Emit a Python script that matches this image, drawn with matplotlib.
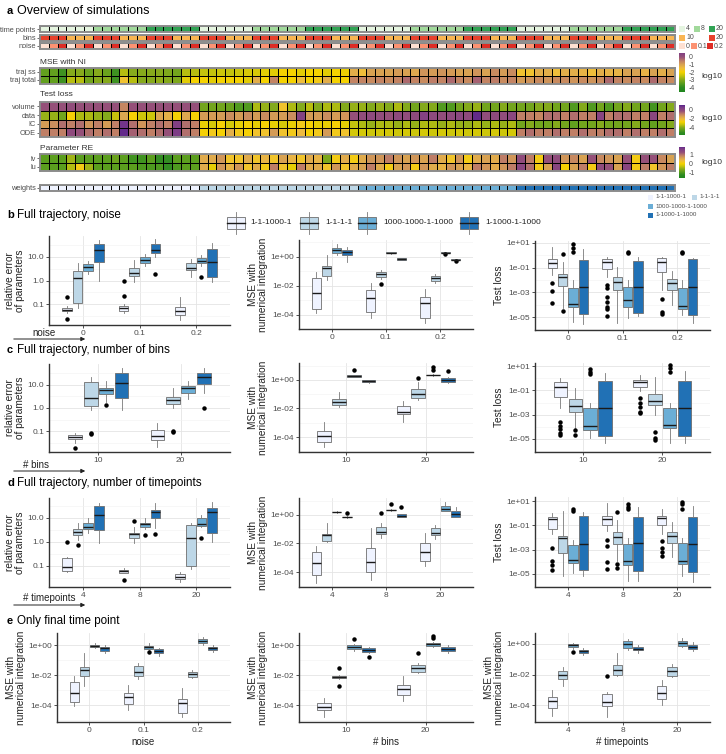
import numpy as np
import matplotlib.pyplot as plt
from matplotlib.colors import LinearSegmentedColormap, ListedColormap, Normalize
from matplotlib.patches import Rectangle
from matplotlib.ticker import FixedLocator, NullFormatter

plt.rcParams['font.family'] = ['Liberation Sans', 'DejaVu Sans']

W, H = 726, 754

# ---------------- categories ----------------
weights = ['1-1-1000-1', '1-1-1-1', '1000-1000-1-1000', '1-1000-1-1000']
weight_colors = ['#eff3ff', '#bdd7e7', '#6baed6', '#2171b5']
timepoints = ['4', '8', '20']
tp_colors = ['#e5f5e0', '#a1d99b', '#31a354']
bins = ['10', '20']
bin_colors = ['#f9b552', '#e8412c']
bins_col_order = [1, 0]          # columns show 20 first, then 10
noise = ['0', '0.1', '0.2']
noise_colors = ['#fee0d2', '#fc9272', '#de2d26']

# ---------------- heatmap values (log10, read per column) ----------------
mse_traj_ss = [-3.4, -3.4, -3.8, -3.0, -3.0, -3.3, -3.0, -3.3, -3.8, -2.6, -3.0, -3.0, -3.0, -3.0, -3.1, -3.2, -2.6, -2.6,
               -2.5, -2.5, -2.4, -2.5, -2.4, -2.3, -2.3, -2.2, -2.2, -2.0, -2.0, -2.2, -2.0, -2.0, -2.2, -2.0, -2.1, -1.2,
               -1.5, -1.0, -1.0, -1.0, -0.9, -1.0, -1.1, -0.8, -0.9, -0.8, -0.9, -1.0, -1.0, -0.8, -1.0, -0.7, -0.9, -0.7,
               -1.6, -1.6, -1.2, -1.2, -1.5, -1.2, -1.2, -1.3, -1.5, -1.2, -1.3, -1.3, -1.0, -1.0, -1.3, -1.0, -1.2, -1.0]
mse_traj_total = [-3.4, -3.4, -3.8, -2.6, -2.6, -3.2, -3.0, -3.0, -3.8, -1.6, -2.6, -3.0, -3.0, -2.9, -3.0, -3.1, -2.2, -2.0,
                  -2.0, -2.2, -2.0, -2.0, -2.0, -2.2, -1.2, -2.0, -0.6, -2.0, -2.0, -1.5, -2.0, -1.8, -1.2, -2.0, -2.0, -0.6,
                  -0.6, -0.7, -0.6, -0.7, -0.6, -0.3, -0.6, -0.7, -0.5, -0.6, -0.3, -0.6, -0.7, -0.2, -0.6, -0.5, -0.7, -0.6,
                  -0.9, -0.8, -0.7, -0.8, -0.7, -0.7, -0.8, -0.7, -0.8, -0.7, -0.3, -0.6, -0.7, -0.6, -0.7, -0.3, -0.6, -0.7]

tl_volume = [-0.6, -0.6, -0.6, -0.5, -0.6, -0.6, -0.6, -0.6, -0.6, -1.3, -0.6, -0.6, -0.6, -0.6, -0.6, -0.6, -0.6, -0.6,
             -4.2, -4.2, -4.2, -4.3, -4.6, -4.6, -3.6, -3.8, -4.0, -2.4, -3.6, -4.0, -3.5, -4.0, -3.6, -3.6, -4.0, -3.8,
             -3.8, -4.0, -3.8, -4.0, -3.6, -4.0, -4.2, -4.0, -4.0, -4.6, -4.6, -4.2, -4.0, -3.8, -4.2, -4.2, -4.0, -4.2,
             -4.2, -4.2, -4.0, -4.0, -4.2, -4.2, -4.6, -4.0, -4.6, -4.2, -4.6, -4.2, -4.0, -4.2, -4.2, -4.8, -4.2, -4.0]
tl_data = [-3.8, -3.8, -4.2, -2.8, -3.6, -3.6, -3.8, -4.0, -3.4, -1.8, -2.8, -3.3, -3.3, -1.8, -2.0, -2.8, -1.8, -2.8,
           -1.6, -1.6, -1.6, -1.4, -1.6, -1.4, -1.6, -1.4, -1.6, -1.6, -1.4, -0.1, -1.6, -1.6, -1.4, -1.6, -1.5, -0.6,
           -0.5, -0.4, -0.5, -0.6, -0.4, -0.5, -0.4, -0.1, -0.4, -0.5, -0.4, -0.3, -0.4, 0.5, -0.5, -0.4, -0.5, -0.3,
           -1.2, -1.2, -1.3, -1.0, -1.0, -1.2, -1.0, -1.2, -1.2, -0.2, -1.2, -1.0, -1.0, -1.2, -1.2, -0.3, -1.2, -1.0]
tl_ic = [-1.6, -1.4, -1.0, -1.2, -1.0, -1.5, -1.2, -1.6, -1.2, 0.3, -1.0, -1.5, -1.2, -1.0, -1.2, 0.0, -1.0, -1.2,
         -3.0, -3.2, -2.8, -3.2, -3.0, -2.8, -3.0, -2.8, -3.0, -3.2, -3.0, -2.6, -2.8, -3.0, -3.0, -2.8, -3.0, -3.4,
         -3.6, -3.8, -3.6, -3.6, -3.8, -3.6, -3.8, -3.6, -3.6, -3.8, -3.6, -3.8, -3.8, -3.6, -3.8, -3.6, -3.8, -3.6,
         -4.2, -4.0, -4.2, -4.2, -4.0, -4.2, -4.4, -4.2, -4.2, -4.0, -4.2, -4.2, -4.2, -4.0, -4.2, -4.4, -4.2, -4.0]
tl_ode = [-1.2, -1.2, -1.2, -0.4, -0.6, -1.0, -1.2, -1.0, -1.2, 0.5, -0.8, -1.0, -1.2, -1.0, -0.6, 0.1, -1.0, -1.2,
          -2.8, -2.6, -2.8, -2.0, -2.6, -2.8, -2.4, -2.4, -1.6, -2.4, -2.6, -2.2, -2.8, -2.6, -1.6, -2.6, -2.4, -3.2,
          -3.2, -3.3, -3.2, -3.2, -3.3, -3.2, -3.3, -3.2, -3.3, -3.2, -3.3, -3.2, -3.3, -3.2, -3.3, -3.2, -3.3, -3.2,
          -1.2, -1.0, -1.2, -1.2, -1.0, -1.2, -1.2, -1.0, -1.2, -1.2, -1.0, -1.0, -1.2, -1.0, -1.2, -1.2, -1.0, -1.2]

re_lv = [-1.0, -1.0, -1.0, -0.6, -1.0, -1.0, -1.0, -1.0, -0.9, -1.0, -1.2, -1.2, -1.0, -1.3, -1.3, -1.0, -1.0, -1.0,
         0.4, 0.4, 0.6, 0.1, 0.1, 0.4, 0.1, 0.3, 0.1, 0.5, 0.3, 0.1, 0.4, 0.3, -0.8, 0.0, 0.4, 0.0,
         0.4, 0.6, 0.6, 0.8, 0.6, 0.5, 0.6, 0.5, 0.8, 0.4, 0.1, 0.6, 0.0, 0.4, 0.5, 0.4, 0.8, 0.6,
         1.2, 0.8, 0.0, 1.1, 1.2, 0.6, 0.7, 0.5, 1.1, 0.7, 0.6, 0.5, 1.1, 0.0, 1.1, 1.1, 0.7, 0.5]
re_lu = [-1.0, -1.0, -1.0, -0.5, 0.0, -0.6, -1.0, -1.0, -1.0, -1.0, -1.0, -1.1, -1.1, -1.1, -1.3, -1.1, -1.0, -1.0,
         0.4, -0.2, 0.6, 0.3, 0.6, 0.1, 0.4, 0.0, 0.8, 0.1, -0.2, 0.8, 0.4, 0.4, 0.1, 0.6, 0.1, 0.4,
         0.5, 0.8, 0.4, 0.0, 0.5, 0.6, 0.0, 0.6, 0.4, 0.3, 0.6, 0.5, 0.3, 0.8, 0.6, 0.4, 0.6, 0.8,
         1.3, 0.9, 0.0, 0.5, 1.3, -0.1, 0.5, 0.8, 0.0, 1.2, 1.1, 0.5, 1.3, 0.0, 0.8, 0.1, 0.6, 0.8]

# ---------------- boxplot values (log10: whisker lo, q1, median, q3, whisker hi) ----------------
b_re = [(-1.4, -1.3, -1.25, -1.15, -1.1), (-1.17, -0.96, 0.11, 0.40, 0.74), (0.28, 0.40, 0.57, 0.70, 0.83), (0.0, 0.79, 1.30, 1.55, 1.72),
        (-1.38, -1.3, -1.17, -1.09, -1.0), (-0.06, 0.19, 0.32, 0.53, 0.87), (0.62, 0.74, 0.87, 1.0, 1.13), (1.0, 1.17, 1.30, 1.55, 1.77),
        (-1.68, -1.47, -1.3, -1.13, -0.7), (0.15, 0.45, 0.53, 0.74, 0.91), (0.62, 0.74, 0.83, 0.96, 1.1), (-0.06, 0.15, 0.79, 1.34, 1.6)]
b_re_out = [[-1.64, -0.7], [], [], [], [0.0, -0.66], [], [], [0.28], [], [], [0.15], []]
b_mse = [(-3.86, -3.59, -2.48, -1.45, -1.03), (-1.59, -1.31, -0.76, -0.62, 0.14), (0.14, 0.28, 0.48, 0.62, 0.9), (-0.34, 0.14, 0.34, 0.48, 0.69),
         (-4.2, -3.79, -2.83, -2.28, -1.79), (-1.52, -1.38, -1.17, -1.03, -0.9), (0.22, 0.24, 0.28, 0.31, 0.33), (-0.22, -0.2, -0.14, -0.08, -0.06),
         (-4.55, -4.2, -3.17, -2.76, -2.2), (-1.79, -1.66, -1.45, -1.31, -1.17), (0.24, 0.26, 0.28, 0.31, 0.33), (-0.24, -0.22, -0.2, -0.17, -0.15)]
b_mse_out = [[], [], [], [], [], [-1.86], [], [], [], [], [0.2], [-0.28]]
b_tl = [(-1.58, -1.02, -0.61, -0.29, 0.68), (-4.3, -2.47, -1.74, -1.5, -0.53), (-5.37, -4.16, -3.92, -2.63, -2.0), (-5.6, -4.73, -2.55, -0.37, 0.52),
        (-1.74, -1.1, -0.53, -0.29, -0.15), (-5.45, -2.79, -2.15, -1.74, -0.94), (-5.05, -4.16, -3.6, -2.55, -2.0), (-4.89, -4.65, -2.55, -0.45, -0.13),
        (-2.79, -1.34, -0.53, -0.21, -0.15), (-4.0, -2.79, -2.23, -1.9, -1.26), (-4.81, -4.32, -4.08, -2.63, -2.0), (-5.45, -4.81, -2.55, -0.29, -0.2)]
b_tl_out = [[-2.23, -2.87, -3.84], [0.11, -4.5], [0.92, 0.6, 0.27], [],
            [-2.39, -2.63, -3.35, -3.8, -4.2, -4.35, -4.9], [], [0.27, 0.19], [],
            [-3.5, -4.56, -4.73], [], [0.27, 0.19], []]

c_re = [(-1.52, -1.35, -1.26, -1.17, -1.09), (-0.09, 0.09, 0.43, 1.13, 1.35), (0.26, 0.61, 0.78, 0.87, 1.17), (-0.09, 0.43, 1.09, 1.52, 1.74),
        (-1.7, -1.39, -1.22, -0.96, -0.65), (0.0, 0.17, 0.35, 0.48, 0.87), (0.39, 0.65, 0.87, 0.96, 1.17), (0.65, 1.04, 1.35, 1.52, 1.74)]
c_re_out = [[-1.74], [-1.13, -1.09], [0.13], [], [], [-1.0, -1.04], [], [0.0]]
c_mse = [(-4.7, -4.35, -3.93, -3.58, -2.95), (-1.9, -1.75, -1.54, -1.33, -0.84), (0.2, 0.22, 0.28, 0.33, 0.36), (-0.18, -0.15, -0.07, 0.0, 0.03),
         (-2.95, -2.39, -2.25, -1.83, -1.5), (-1.4, -1.26, -0.98, -0.63, -0.14), (0.3, 0.32, 0.35, 0.38, 0.4), (-0.2, -0.14, 0.0, 0.14, 0.2)]
c_mse_out = [[], [], [0.7], [], [], [0.14], [0.91, 0.7], [0.63]]
c_tl = [(-2.44, -1.54, -0.72, -0.31, 0.02), (-4.1, -2.77, -2.28, -1.7, -0.8), (-4.9, -4.25, -3.9, -2.44, -2.0), (-5.3, -4.74, -2.44, -0.23, 0.43),
        (-1.05, -0.72, -0.31, -0.15, 0.26), (-3.0, -2.2, -1.87, -1.3, 0.1), (-5.3, -4.1, -3.84, -2.44, -2.0), (-5.3, -4.74, -2.44, -0.23, 0.6)]
c_tl_out = [[-3.6, -3.9, -4.2, -4.5, -4.7], [-4.3, -4.65], [0.75, 0.5, 0.35], [],
            [-1.6, -2.0, -2.36, -2.8, -2.9], [-4.4, -4.9, -5.1], [1.08, 0.84, 0.5], []]

d_re = [(-1.25, -1.21, -1.04, -0.67, -0.63), (0.08, 0.29, 0.42, 0.54, 0.79), (0.38, 0.54, 0.63, 0.79, 1.0), (-0.04, 0.5, 1.13, 1.5, 1.63),
        (-1.3, -1.29, -1.21, -1.17, -1.1), (-0.04, 0.17, 0.35, 0.38, 0.63), (0.54, 0.63, 0.75, 0.79, 1.0), (0.58, 1.0, 1.25, 1.33, 1.63),
        (-1.67, -1.54, -1.46, -1.33, -1.25), (-1.13, -1.0, 0.17, 0.71, 0.79), (0.63, 0.67, 0.75, 1.0, 1.13), (0.0, 0.38, 1.25, 1.42, 1.67)]
d_re_out = [[0.0], [-0.13], [], [], [-1.58], [0.88], [0.29], [0.33], [], [], [0.17], []]
d_mse = [(-4.77, -4.21, -3.37, -2.6, -2.18), (-1.9, -1.82, -1.4, -1.33, -0.56), (0.16, 0.18, 0.21, 0.24, 0.26), (-0.18, -0.16, -0.14, -0.11, -0.09),
         (-4.56, -4.0, -3.3, -2.32, -0.91), (-1.61, -1.33, -1.19, -0.84, -0.56), (0.3, 0.32, 0.35, 0.38, 0.4), (-0.14, -0.14, -0.07, 0.07, 0.07),
         (-3.58, -3.23, -2.6, -1.96, -1.26), (-1.68, -1.4, -1.26, -0.91, -0.7), (0.28, 0.28, 0.42, 0.63, 0.91), (-0.14, -0.14, 0.07, 0.28, 0.56)]
d_mse_out = [[], [], [], [0.14], [], [0.14], [0.77], [0.56], [], [], [], []]
d_tl = [(-1.7, -1.3, -0.48, -0.31, 0.02), (-5.15, -3.26, -2.03, -1.87, 0.18), (-4.9, -4.1, -3.84, -2.6, -2.2), (-5.2, -4.66, -2.52, -0.23, 0.1),
        (-1.5, -0.97, -0.48, -0.23, 0.84), (-3.9, -2.52, -1.95, -1.54, -0.6), (-5.56, -4.25, -3.92, -2.52, -2.0), (-5.56, -4.74, -2.44, -0.31, 0.5),
        (-1.7, -0.97, -0.39, -0.23, 0.34), (-3.6, -2.44, -1.87, -1.54, -0.72), (-5.2, -4.16, -3.92, -2.44, -2.0), (-5.64, -4.82, -2.52, -0.31, 0.59)]
d_tl_out = [[-2.85, -3.9, -4.3, -4.7], [], [0.34, 0.18], [],
            [-2.2, -2.7, -4.0, -4.57], [0.1, -4.16, -4.5], [0.75, 0.5, 0.34], [],
            [-2.28, -2.85, -3.2, -3.5], [], [0.92, 0.75, 0.34], []]

e_noise = [(-4.07, -3.8, -3.2, -2.47, -2.07), (-2.73, -2.07, -1.67, -1.47, -0.53), (-0.2, -0.13, -0.07, 0.0, 0.13), (-0.53, -0.4, -0.2, -0.13, 0.0),
           (-4.33, -3.93, -3.47, -3.2, -2.67), (-2.27, -2.07, -1.8, -1.4, -1.2), (-0.35, -0.27, -0.13, -0.07, 0.13), (-0.73, -0.53, -0.4, -0.27, -0.2),
           (-4.8, -4.53, -3.87, -3.6, -2.87), (-2.2, -2.13, -1.93, -1.8, -1.67), (0.0, 0.13, 0.27, 0.4, 0.53), (-0.47, -0.33, -0.2, -0.13, 0.0)]
e_noise_out = [[], [], [], [], [], [], [-0.47], [], [], [], [], []]
e_bins = [(-4.8, -4.33, -4.13, -3.87, -3.53), (-2.27, -2.2, -2.13, -2.07, -2.0), (-0.4, -0.27, -0.13, 0.0, 0.1), (-0.55, -0.47, -0.33, -0.2, -0.1),
          (-3.73, -3.33, -2.93, -2.67, -2.07), (-1.87, -1.8, -1.53, -1.33, -1.2), (-0.1, -0.07, 0.07, 0.13, 0.2), (-0.53, -0.4, -0.27, -0.13, 0.0)]
e_bins_out = [[], [-1.53, -2.73], [0.4], [-0.8], [], [-0.53], [0.6, 0.47], []]
e_tp = [(-4.73, -4.2, -3.73, -3.47, -3.0), (-2.73, -2.27, -2.0, -1.8, -1.53), (-0.3, -0.2, -0.07, 0.0, 0.07), (-0.73, -0.6, -0.47, -0.4, -0.27),
        (-4.8, -4.07, -3.8, -3.27, -3.13), (-2.07, -2.0, -1.73, -1.4, -0.6), (-0.4, -0.27, 0.0, 0.2, 0.33), (-0.6, -0.4, -0.33, -0.2, -0.07),
        (-4.0, -3.6, -3.2, -2.73, -2.33), (-2.13, -2.07, -1.8, -1.53, -1.33), (-0.2, -0.13, 0.07, 0.2, 0.4), (-0.47, -0.33, -0.2, -0.07, 0.13)]
e_tp_out = [[], [], [-0.53], [], [-2.07], [], [], [], [], [], [], []]

# ---------------- helpers ----------------
fig = plt.figure(figsize=(W / 100, H / 100), dpi=100)


def rect(x0, y0, x1, y1):
    return [x0 / W, 1 - y1 / H, (x1 - x0) / W, (y1 - y0) / H]


heat_cmap = LinearSegmentedColormap.from_list('heat', [
    (0.00, '#1f861f'), (0.10, '#2e8b22'), (0.19, '#5a9e1e'), (0.27, '#86aa1c'),
    (0.36, '#c6c40c'), (0.44, '#f5d200'), (0.53, '#efbd3e'), (0.61, '#d9a352'),
    (0.69, '#c07f66'), (0.78, '#955079'), (0.90, '#7a3a88'), (1.00, '#4b1a8c')])
mse_norm = Normalize(-4.6, 1.3)
tl_norm = Normalize(-5.76, 0.86)
re_norm = Normalize(-1.7, 1.9)

# column design: weights > timepoints > bins > noise
col_w, col_t, col_b, col_n = [], [], [], []
for wi in range(len(weights)):
    for ti in range(len(timepoints)):
        for bi in bins_col_order:
            for ni in range(len(noise)):
                col_w.append(wi); col_t.append(ti); col_b.append(bi); col_n.append(ni)


def heat(y0, y1, rows, labels, cmap, norm):
    ax = fig.add_axes(rect(40, y0, 675, y1))
    m = np.array(rows, dtype=float)
    ax.pcolormesh(np.arange(m.shape[1] + 1), np.arange(m.shape[0] + 1), m, cmap=cmap, norm=norm,
                  edgecolors='black', linewidth=0.6)
    ax.set_xlim(0, m.shape[1])
    ax.set_ylim(m.shape[0], 0)
    ax.set_xticks([])
    ax.set_yticks(np.arange(m.shape[0]) + 0.5)
    ax.set_yticklabels(labels)
    ax.tick_params(axis='y', length=2, width=0.5, pad=1, labelsize=5.3, colors='#333333', labelcolor='#4d4d4d')
    for s in ax.spines.values():
        s.set_edgecolor('#8c8c8c')
        s.set_linewidth(1.4)
    return ax


def colorbar(y0, y1, lo, hi, ticks, norm, label_y):
    ax = fig.add_axes(rect(679, y0, 685, y1))
    g = np.linspace(lo, hi, 200).reshape(-1, 1)
    ax.imshow(g, aspect='auto', cmap=heat_cmap, norm=norm, extent=[0, 1, lo, hi], origin='lower')
    ax.set_xticks([])
    ax.yaxis.tick_right()
    ax.set_yticks(ticks)
    ax.set_yticklabels([str(t) for t in ticks])
    ax.set_ylim(lo, hi)
    ax.tick_params(axis='y', length=1.5, width=0.5, colors='white', labelcolor='#4d4d4d', labelsize=5, pad=1.5)
    for s in ax.spines.values():
        s.set_visible(False)
    fig.text(701 / W, 1 - label_y / H, 'log10', fontsize=6, color='#333333', va='center')


# ---------------- panel a ----------------
fig.text(7 / W, 1 - 11 / H, 'a', fontsize=8, fontweight='bold', va='center')
fig.text(17 / W, 1 - 11 / H, 'Overview of simulations', fontsize=9, va='center')

heat(26, 32, [col_t], ['time points'], ListedColormap(tp_colors), Normalize(-0.5, 2.5))
heat(35, 41, [col_b], ['bins'], ListedColormap(bin_colors), Normalize(-0.5, 1.5))
heat(43, 49, [col_n], ['noise'], ListedColormap(noise_colors), Normalize(-0.5, 2.5))

fig.text(40 / W, 1 - 62 / H, 'MSE with NI', fontsize=6, color='#333333', va='center')
heat(68, 84, [mse_traj_ss, mse_traj_total], ['traj ss', 'traj total'], heat_cmap, mse_norm)
fig.text(40 / W, 1 - 95 / H, 'Test loss', fontsize=6, color='#333333', va='center')
heat(102, 137, [tl_volume, tl_data, tl_ic, tl_ode], ['volume', 'data', 'IC', 'ODE'], heat_cmap, tl_norm)
fig.text(40 / W, 1 - 148 / H, 'Parameter RE', fontsize=6, color='#333333', va='center')
heat(154, 171, [re_lv, re_lu], ['lv', 'lu'], heat_cmap, re_norm)
heat(185, 191, [col_w], ['weights'], ListedColormap(weight_colors), Normalize(-0.5, 3.5))

colorbar(53, 92, -4.6, 0.5, [0, -1, -2, -3, -4], mse_norm, 76)
colorbar(105, 135, -5.5, 0.85, [0, -2, -4], tl_norm, 119)
colorbar(147, 178, -1.67, 1.8, [1, 0, -1], re_norm, 163)

# overlay in pixel coordinates for legends / arrows
ov = fig.add_axes([0, 0, 1, 1])
ov.set_xlim(0, W)
ov.set_ylim(H, 0)
ov.axis('off')
ov.patch.set_alpha(0)


def sq(x, y, c, s=6):
    ov.add_patch(Rectangle((x, y - s / 2), s, s, facecolor=c, edgecolor='none'))


for x, lab, c in zip([679, 694, 709], timepoints, tp_colors):
    sq(x, 29, c)
    ov.text(x + 7, 29, lab, fontsize=5, color='#4d4d4d', va='center')
for x, lab, c in zip([679, 709], bins, bin_colors):
    sq(x, 37.5, c)
    ov.text(x + 7, 37.5, lab, fontsize=5, color='#4d4d4d', va='center')
for x, lab, c in zip([679, 691, 707], noise, noise_colors):
    sq(x, 46, c)
    ov.text(x + 7, 46, lab, fontsize=5, color='#4d4d4d', va='center')

for (x, y), lab, c in zip([(648, 197), (692, 197), (648, 206), (648, 215)], weights, weight_colors):
    sq(x, y, c, 5)
    ov.text(x + 7, y, lab, fontsize=4.5, color='#4d4d4d', va='center')

# main box legend
for x, tx, lab, c in zip([227, 300, 358, 460], [250, 325, 383, 485], weights, weight_colors):
    ov.plot([x + 9, x + 9], [212, 234], color='#7a7a7a', lw=0.6)
    ov.add_patch(Rectangle((x, 217), 18, 12, facecolor=c, edgecolor='#6e6e6e', lw=0.6))
    ov.plot([x, x + 18], [223, 223], color='#1a1a1a', lw=1.0)
    ov.text(tx, 223, lab, fontsize=6, color='#222222', va='center')


# ---------------- box panels ----------------
def box_panel(r, groups, stats, outs, ylim, kind, ylab, xlab=None):
    ax = fig.add_axes(rect(*r), zorder=2)
    st, pos = [], []
    for i, (s, f) in enumerate(zip(stats, outs)):
        g, k = divmod(i, 4)
        lo, q1, med, q3, hi = s
        st.append(dict(whislo=10 ** lo, q1=10 ** q1, med=10 ** med, q3=10 ** q3, whishi=10 ** hi,
                       fliers=10 ** np.array(f, dtype=float)))
        pos.append(g + 1 + (k - 1.5) * 0.1875)
    res = ax.bxp(st, positions=pos, widths=0.17, patch_artist=True, showcaps=False,
                 boxprops=dict(edgecolor='#6e6e6e', linewidth=0.6),
                 medianprops=dict(color='#1a1a1a', linewidth=1.0),
                 whiskerprops=dict(color='#7a7a7a', linewidth=0.6),
                 flierprops=dict(marker='o', markersize=2.2, markerfacecolor='black', markeredgecolor='black'))
    for i, p in enumerate(res['boxes']):
        p.set_facecolor(weight_colors[i % 4])
    ax.set_yscale('log')
    ax.set_ylim(10 ** ylim[0], 10 ** ylim[1])
    if kind == 're':
        major, labels, minor = [-1, 0, 1], ['0.1', '1.0', '10.0'], [-1.5, -0.5, 0.5, 1.5]
    elif kind == 'mse':
        major, labels, minor = [-4, -2, 0], ['1e-04', '1e-02', '1e+00'], [-5, -3, -1, 1]
    else:
        major, labels, minor = [-5, -3, -1, 1], ['1e-05', '1e-03', '1e-01', '1e+01'], [-6, -4, -2, 0]
    ax.yaxis.set_major_locator(FixedLocator(10.0 ** np.array(major)))
    ax.set_yticklabels(labels)
    ax.yaxis.set_minor_locator(FixedLocator(10.0 ** np.array(minor)))
    ax.yaxis.set_minor_formatter(NullFormatter())
    n = len(groups)
    ax.set_xlim(0.4, n + 0.6)
    ax.set_xticks(np.arange(1, n + 1))
    ax.set_xticklabels(groups)
    ax.grid(True, which='major', color='#e4e4e4', linewidth=0.6)
    ax.grid(True, which='minor', axis='y', color='#f2f2f2', linewidth=0.4)
    ax.set_axisbelow(True)
    ax.tick_params(which='major', length=2, width=0.6, colors='#333333', labelcolor='#4d4d4d', labelsize=6, pad=1.5)
    ax.tick_params(which='minor', length=0)
    for s in ['top', 'right']:
        ax.spines[s].set_visible(False)
    for s in ['left', 'bottom']:
        ax.spines[s].set_color('#333333')
        ax.spines[s].set_linewidth(1.0)
    ax.patch.set_alpha(0)
    ax.set_ylabel(ylab, fontsize=7.3, color='#222222', labelpad=2, linespacing=1.0)
    if xlab:
        ax.set_xlabel(xlab, fontsize=7, color='#222222', labelpad=2)
    return ax


re_lab = 'relative error\nof parameters'
mse_lab = 'MSE with\nnumerical integration'

headers = [(215, 'b', 'Full trajectory, noise'), (350, 'c', 'Full trajectory, number of bins'),
           (483, 'd', 'Full trajectory, number of timepoints'), (621, 'e', 'Only final time point')]
for y, l, t in headers:
    fig.text(7 / W, 1 - y / H, l, fontsize=8, fontweight='bold', va='center')
    fig.text(17 / W, 1 - y / H, t, fontsize=8.4, va='center')

box_panel((49, 236, 230, 325), noise, b_re, b_re_out, (-1.89, 1.89), 're', re_lab)
box_panel((299, 240, 473, 329), noise, b_mse, b_mse_out, (-4.97, 1.17), 'mse', mse_lab)
box_panel((535, 241, 710, 330), noise, b_tl, b_tl_out, (-6.05, 1.16), 'tl', 'Test loss')

box_panel((49, 364, 230, 452), bins, c_re, c_re_out, (-1.91, 1.91), 're', re_lab)
box_panel((299, 363, 473, 452), bins, c_mse, c_mse_out, (-5.05, 1.19), 'mse', mse_lab)
box_panel((535, 363, 710, 452), bins, c_tl, c_tl_out, (-6.07, 1.25), 'tl', 'Test loss')

box_panel((49, 498, 230, 587), timepoints, d_re, d_re_out, (-1.88, 1.83), 're', re_lab)
box_panel((299, 498, 473, 587), timepoints, d_mse, d_mse_out, (-5.05, 1.19), 'mse', mse_lab)
box_panel((535, 497, 710, 587), timepoints, d_tl, d_tl_out, (-6.07, 1.33), 'tl', 'Test loss')

box_panel((57, 633, 230, 722), noise, e_noise, e_noise_out, (-5.13, 0.8), 'mse', mse_lab, 'noise')
box_panel((299, 633, 473, 722), bins, e_bins, e_bins_out, (-5.13, 0.8), 'mse', mse_lab, '# bins')
box_panel((535, 633, 710, 722), timepoints, e_tp, e_tp_out, (-5.11, 0.72), 'mse', mse_lab, '# timepoints')

# arrows under the left panels
for ty, ay, tx, lab in [(333, 339, 32, 'noise'), (465, 471, 23, '# bins'), (598, 605, 23, '# timepoints')]:
    ov.text(tx, ty, lab, fontsize=7, color='#222222', va='center')
    ov.annotate('', xy=(88, ay), xytext=(11, ay),
                arrowprops=dict(arrowstyle='-|>', color='#222222', lw=0.7, mutation_scale=6))

fig.savefig('out.png', dpi=100)
